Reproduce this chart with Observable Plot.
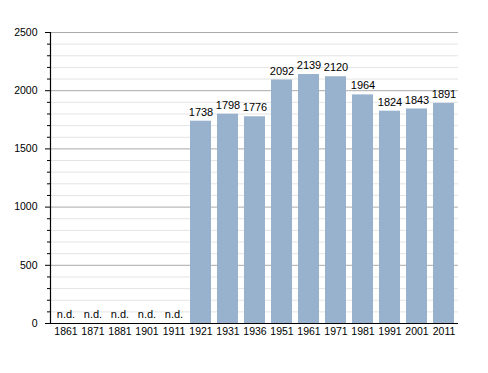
<!DOCTYPE html>
<html><head><meta charset="utf-8">
<script src="https://cdn.jsdelivr.net/npm/d3@7"></script>
<script src="https://cdn.jsdelivr.net/npm/@observablehq/plot@0.6"></script>
<style>body{margin:0;background:#fff;font-family:"Liberation Sans",Arial,sans-serif}</style>
</head><body><div id="chart"></div>
<script>
const years = ["1861","1871","1881","1901","1911","1921","1931","1936","1951","1961","1971","1981","1991","2001","2011"];
const population = [null,null,null,null,null,1738,1798,1776,2092,2139,2120,1964,1824,1843,1891];
const majorTicks = [0,500,1000,1500,2000,2500];
const minorTicks = d3.range(0,2501,100).filter(v => v % 500 !== 0);

const data = years.map((y,i) => ({year:y, value:population[i]}));
const known = data.filter(d => d.value != null);
const missing = data.filter(d => d.value == null);

const chart = Plot.plot({
  width: 488, height: 373,
  marginLeft: 50, marginRight: 30, marginTop: 32, marginBottom: 50,
  style: {fontFamily: '"Liberation Sans", Arial, sans-serif', fontSize: "11px", color: "#000"},
  x: {domain: years, paddingInner: 0.24, paddingOuter: 0, align: 0.5, label: null},
  y: {domain: [0,2500], label: null},
  marks: [
    Plot.ruleY(minorTicks, {stroke: "#e4e4e4", strokeWidth: 1}),
    Plot.ruleY(majorTicks.filter(v => v>0), {stroke: "#aaaaaa", strokeWidth: 1}),
    Plot.barY(known, {x: "year", y: "value", fill: "#98b1cd"}),
    Plot.text(known, {x: "year", y: "value", text: d => String(d.value), dy: -9, fontSize: 11, fill: "#000"}),
    Plot.text(missing, {x: "year", y: 0, text: () => "n.d.", dy: -9, fontSize: 11, fill: "#000"}),
    Plot.axisY({ticks: minorTicks, tickSize: 3, tickFormat: () => "", stroke: "#000"}),
    Plot.axisY({ticks: majorTicks, tickSize: 5, tickPadding: 8, tickFormat: d => String(d), fill: "#000", fontSize: 10.5}),
    Plot.axisX({tickSize: 0, tickPadding: 4, fontSize: 10.5, fill: "#000"}),
    Plot.ruleY([0], {stroke: "#000", strokeWidth: 1.2}),
    Plot.frame({anchor: "left", stroke: "#000", strokeWidth: 1.2})
  ]
});
document.getElementById("chart").appendChild(chart);
</script>
</body></html>
